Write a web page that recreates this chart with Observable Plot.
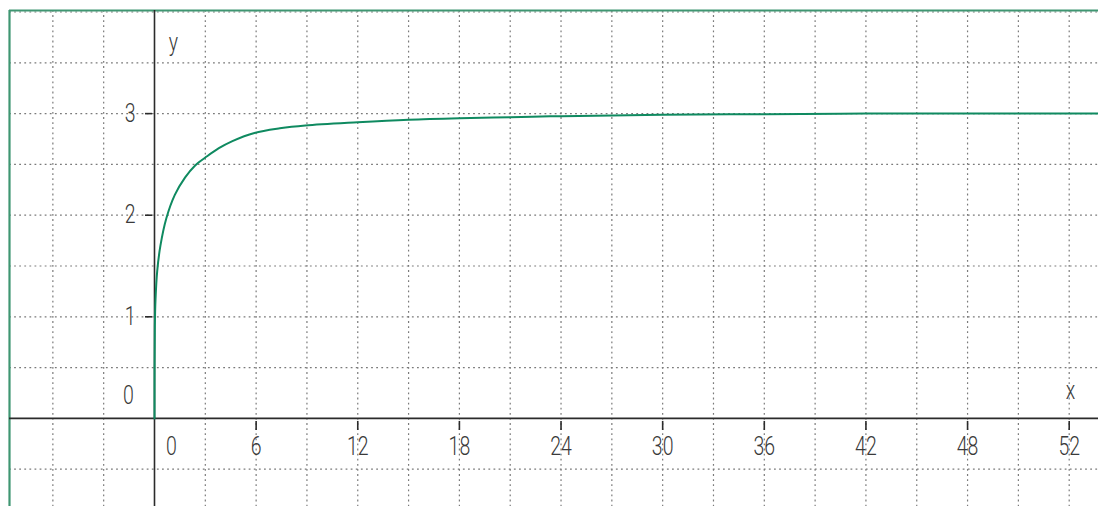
<!DOCTYPE html>
<html>
<head>
<meta charset="utf-8">
<script src="https://cdn.jsdelivr.net/npm/d3@7"></script>
<script src="https://cdn.jsdelivr.net/npm/@observablehq/plot@0.6"></script>
<style>
  html, body { margin: 0; padding: 0; background: #fff; }
  #chart svg { display: block; }
</style>
</head>
<body>
<div id="chart"></div>
<script>
// Curve values
const curveX = [0, 0.005, 0.02, 0.06, 0.16, 0.35, 0.7, 1.2, 1.8, 2.4, 3.1, 3.8, 4.6, 5.9, 7.4, 8.9, 12, 15, 18, 21, 24, 27, 30, 36, 42, 48, 56];
const curveY = [0, 0.5, 0.9, 1.17, 1.45, 1.7, 1.97, 2.2, 2.37, 2.49, 2.58, 2.66, 2.73, 2.81, 2.855, 2.883, 2.915, 2.94, 2.955, 2.965, 2.975, 2.982, 2.99, 2.995, 3.0, 3.0, 3.0];

// Axis ticks and their labels
const xTickValues = [6, 12, 18, 24, 30, 36, 42, 48, 54];
const xTickLabels = ["6", "12", "18", "24", "30", "36", "42", "48", "52"];
const yTickValues = [1, 2, 3];
const yTickLabels = ["1", "2", "3"];
const originXLabel = "0";
const originYLabel = "0";
const xTitle = "x";
const yTitle = "y";

// Grid steps
const xGridStep = 3;
const yGridStep = 0.5;

const xDomain = [-8.56, 55.73];
const yDomain = [-0.867, 4.015];

const data = curveX.map((x, i) => ({x, y: curveY[i]}));
const xGrid = d3.range(-9, 57, xGridStep);
const yGrid = d3.range(-0.5, 4.01, yGridStep);
const xTicks = xTickValues.map((v, i) => ({v, label: xTickLabels[i]}));
const yTicks = yTickValues.map((v, i) => ({v, label: yTickLabels[i]}));

const font = "Roboto, 'DejaVu Sans Condensed', sans-serif";
const textColor = "#3a3a3a";
const gridColor = "#7a7a7a";
const axisColor = "#2b2b2b";
const green = "#0f8a60";
const borderGreen = "#3f9672";
const fs = 25;

const chart = Plot.plot({
  width: 1098,
  height: 506,
  marginLeft: 9,
  marginTop: 10,
  marginRight: 0,
  marginBottom: 0,
  x: {domain: xDomain, axis: null},
  y: {domain: yDomain, axis: null},
  style: {fontFamily: font, background: "#fff", fontWeight: 300},
  marks: [
    // dotted grid
    Plot.ruleX(xGrid.filter(v => v > xDomain[0] && v !== 0), {x: d => d, stroke: gridColor, strokeWidth: 1.2, strokeDasharray: "1.8,3.3"}),
    Plot.ruleY(yGrid.filter(v => v !== 0), {y: d => d, stroke: gridColor, strokeWidth: 1.2, strokeDasharray: "1.8,3.3"}),
    // border (left and top)
    Plot.ruleX([xDomain[0]], {x: d => d, stroke: borderGreen, strokeWidth: 2.2}),
    Plot.ruleY([yDomain[1]], {y: d => d, stroke: borderGreen, strokeWidth: 2.2}),
    // axes
    Plot.ruleX([0], {x: d => d, y1: yDomain[0], y2: yDomain[1], stroke: axisColor, strokeWidth: 1.6}),
    Plot.ruleY([0], {y: d => d, x1: xDomain[0], x2: xDomain[1], stroke: axisColor, strokeWidth: 1.6}),
    // tick marks
    Plot.ruleX(xTicks, {x: "v", y1: 0, y2: yDomain[0], insetTop: 3, insetBottom: 76, stroke: axisColor, strokeWidth: 1.6}),
    Plot.ruleY(yTicks, {y: "v", x1: xDomain[0], x2: 0, insetLeft: 136, insetRight: 2, stroke: axisColor, strokeWidth: 1.6}),
    // curve
    Plot.line(data, {x: "x", y: "y", curve: "catmull-rom", stroke: green, strokeWidth: 2, clip: true}),
    // tick labels
    Plot.text(xTicks, {x: "v", y: 0, text: "label", dy: 29, fontSize: fs, fill: textColor}),
    Plot.text(yTicks, {x: 0, y: "v", text: "label", dx: -19, textAnchor: "end", fontSize: fs, fill: textColor}),
    Plot.text([originXLabel], {x: 0, y: 0, text: d => d, dx: 17, dy: 29, fontSize: fs, fill: textColor}),
    Plot.text([originYLabel], {x: 0, y: 0, text: d => d, dx: -26, dy: -22, fontSize: fs, fill: textColor}),
    // axis titles
    Plot.text([xTitle], {x: xDomain[1], y: 0, text: d => d, dx: -28, dy: -27, fontSize: fs, fill: textColor}),
    Plot.text([yTitle], {x: 0, y: yDomain[1], text: d => d, dx: 19, dy: 32, fontSize: fs, fill: textColor})
  ]
});
// narrow the glyphs horizontally, keeping each text's anchor point
chart.querySelectorAll("text").forEach(t => {
  const tr = t.getAttribute("transform") || "";
  t.setAttribute("transform", (tr + " scale(0.78,1)").trim());
});
document.getElementById("chart").append(chart);
</script>
</body>
</html>
